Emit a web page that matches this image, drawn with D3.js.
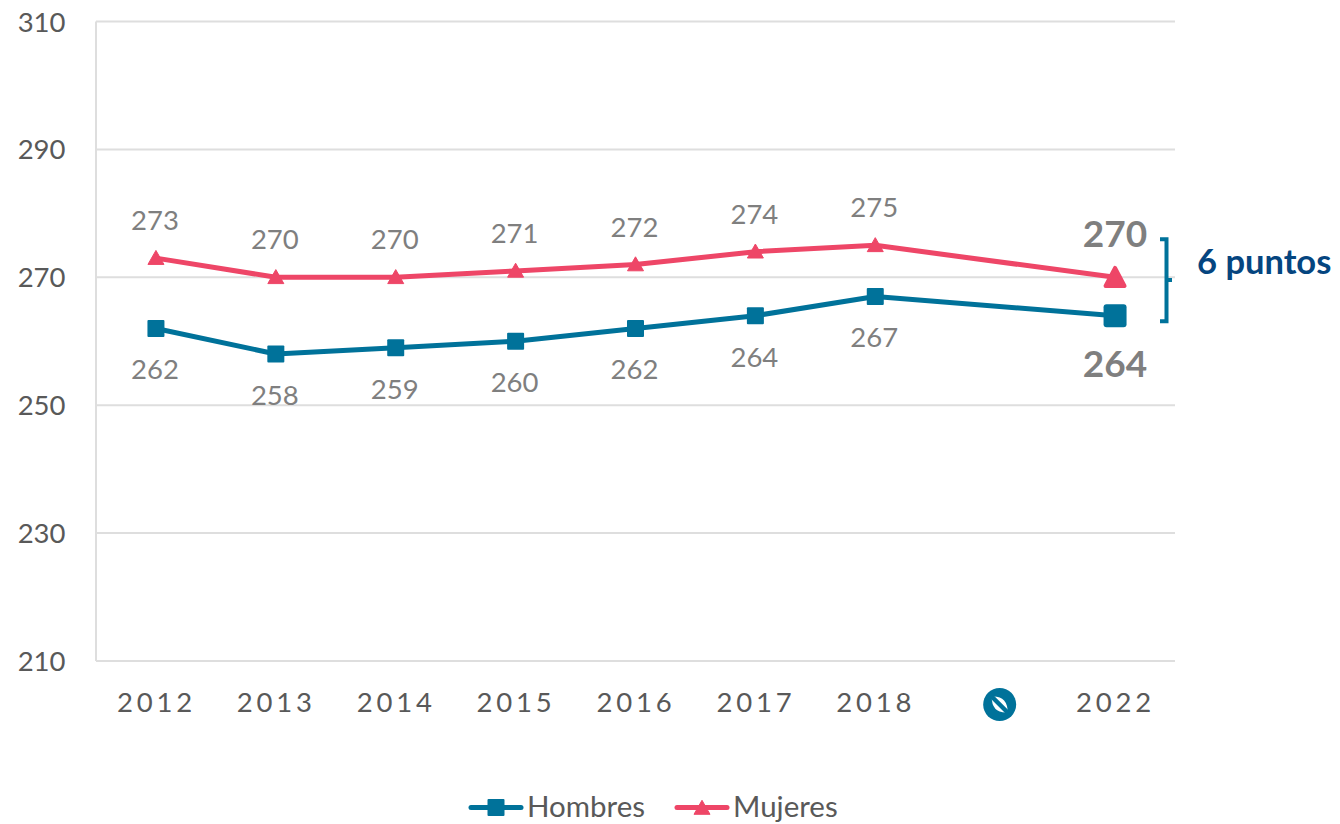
<!DOCTYPE html>
<html><head><meta charset="utf-8">
<script src="https://cdnjs.cloudflare.com/ajax/libs/d3/7.8.5/d3.min.js"></script>
<style>html,body{margin:0;padding:0;background:#fff}svg{display:block}text{font-family:Lato,"Open Sans",sans-serif}</style>
</head><body><svg id="c" width="1340" height="824"></svg>
<script>
const categories=["2012","2013","2014","2015","2016","2017","2018","break","2022"];
const hombres=[262,258,259,260,262,264,267,null,264];
const mujeres=[273,270,270,271,272,274,275,null,270];
const yTicks=[210,230,250,270,290,310];
const seriesNames=["Hombres","Mujeres"];
const gapLabel="6 puntos";
const blue="#00729A",red="#EE4667",grey="#7F7F7F",dark="#595959",grid="#DEDEDE",navy="#05457F";

const svg=d3.select("#c");
const x=d3.scaleBand().domain(categories).range([96,1175]);
const y=d3.scaleLinear().domain([210,310]).range([661,21.5]);
const cx=c=>x(c)+x.bandwidth()/2;

// grid
svg.append("g").selectAll("line").data(yTicks).join("line")
 .attr("x1",96).attr("x2",1175).attr("y1",d=>y(d)).attr("y2",d=>y(d))
 .attr("stroke",grid).attr("stroke-width",2);
svg.append("line").attr("x1",96).attr("x2",96).attr("y1",y(310)).attr("y2",y(210)).attr("stroke",grid).attr("stroke-width",2);

// y tick labels
svg.append("g").selectAll("text").data(yTicks).join("text")
 .attr("x",65.5).attr("y",d=>y(d)+10).attr("text-anchor","end")
 .attr("font-size",27.5).attr("fill",dark).text(d=>d);

// x tick labels
svg.append("g").selectAll("text").data(categories.filter(c=>c!=="break")).join("text")
 .attr("x",d=>cx(d)+0.5).attr("y",712).attr("text-anchor","middle")
 .attr("font-size",27.5).attr("letter-spacing",3.8).attr("fill",dark).text(d=>d);

// break icon: blue disc, white lens along the diagonal, split by a blue band
const bx=cx("break")+4.5,by=704.5;
svg.append("circle").attr("cx",bx).attr("cy",by).attr("r",16.5).attr("fill",blue);
svg.append("path").attr("d",`M${bx-8},${by-8}Q${bx+8},${by-9} ${bx+8},${by+8}Q${bx-8},${by+9} ${bx-8},${by-8}Z`).attr("fill","#fff");
svg.append("line").attr("x1",bx-11).attr("y1",by-11).attr("x2",bx+11).attr("y2",by+11).attr("stroke",blue).attr("stroke-width",4.5);

// lines
const line=d3.line().defined(d=>d.v!==null).x(d=>cx(d.c)).y(d=>y(d.v));
function rows(vals){return categories.map((c,i)=>({c,v:vals[i]})).filter(d=>d.v!==null);}
function drawLine(vals,col){svg.append("path").attr("d",line(rows(vals))).attr("fill","none").attr("stroke",col).attr("stroke-width",5).attr("stroke-linejoin","round").attr("stroke-linecap","round");}
drawLine(hombres,blue);drawLine(mujeres,red);

function square(px,py,s){svg.append("rect").attr("x",px-s/2).attr("y",py-s/2).attr("width",s).attr("height",s).attr("rx",s>20?3:1).attr("fill",blue);}
function tri(px,py,w,h,rnd){svg.append("path").attr("d",`M${px},${py-h*0.55}L${px+w/2},${py+h*0.45}L${px-w/2},${py+h*0.45}Z`).attr("fill",red).attr("stroke",red).attr("stroke-width",rnd).attr("stroke-linejoin","round");}

rows(hombres).forEach(d=>d.c==="2022"?square(cx(d.c),y(d.v),23):square(cx(d.c),y(d.v),17));
rows(mujeres).forEach(d=>d.c==="2022"?tri(cx(d.c),y(d.v)+0.5,19,18,4):tri(cx(d.c),y(d.v),16,14,1));

// data labels
rows(hombres).filter(d=>d.c!=="2022").forEach(d=>svg.append("text").attr("x",cx(d.c)-1).attr("y",y(d.v)+51).attr("text-anchor","middle").attr("font-size",27.5).attr("fill",grey).text(d.v));
rows(mujeres).filter(d=>d.c!=="2022").forEach(d=>svg.append("text").attr("x",cx(d.c)-1).attr("y",y(d.v)-28).attr("text-anchor","middle").attr("font-size",27.5).attr("fill",grey).text(d.v));
const lastH=hombres[8],lastM=mujeres[8];
svg.append("text").attr("x",cx("2022")).attr("y",y(lastM)-30).attr("text-anchor","middle").attr("font-size",37).attr("font-weight",700).attr("fill",grey).text(lastM);
svg.append("text").attr("x",cx("2022")).attr("y",y(lastH)+61).attr("text-anchor","middle").attr("font-size",37).attr("font-weight",700).attr("fill",grey).text(lastH);

// bracket
svg.append("path").attr("d",`M1160,${y(lastM)-38}H1166.5V${y(lastH)+5.5}H1160M1166.5,280H1172`).attr("fill","none").attr("stroke",blue).attr("stroke-width",4);
svg.append("text").attr("x",1197).attr("y",274).attr("font-size",34.5).attr("font-weight",700).attr("fill",navy).text(gapLabel);

// legend
const lg=[{n:seriesNames[0],x0:469,c:blue,m:"s"},{n:seriesNames[1],x0:675,c:red,m:"t"}];
lg.forEach(l=>{
 svg.append("line").attr("x1",l.x0+2).attr("x2",l.x0+52).attr("y1",807.5).attr("y2",807.5).attr("stroke",l.c).attr("stroke-width",5).attr("stroke-linecap","round");
 if(l.m==="s")square(l.x0+27,807.5,17);else tri(l.x0+27,808,16,14,1);
 svg.append("text").attr("x",l.x0+58).attr("y",817).attr("font-size",29.5).attr("fill",dark).text(l.n);
});
</script></body></html>
